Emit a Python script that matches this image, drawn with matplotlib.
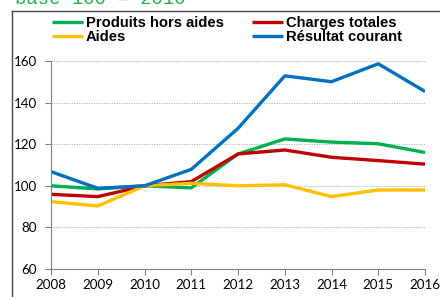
import matplotlib
matplotlib.use('Agg')
import matplotlib.pyplot as plt
from matplotlib.lines import Line2D

# Data (base 100 = 2010)
years = [2008, 2009, 2010, 2011, 2012, 2013, 2014, 2015, 2016]
produits = [100, 98.5, 100, 99, 115.3, 122.5, 121, 120.2, 116]
charges = [95.9, 94.8, 100, 102, 115.3, 117.2, 113.7, 112.1, 110.4]
aides = [92.4, 90.3, 100, 101.2, 100, 100.5, 94.8, 98, 98]
resultat = [106.8, 98.8, 100, 107.9, 127.6, 152.8, 150, 158.6, 145.3]

fig = plt.figure(figsize=(4.4, 2.97), dpi=100)
ax = fig.add_axes([0.116, 0.094, 0.85, 0.701])

# outer frame (only left and top edges are visible)
fx = 11.5 / 440
fy = 1 - 10.5 / 297
fig.add_artist(Line2D([fx, fx], [-0.1, fy], transform=fig.transFigure,
                      color='#444444', lw=1.0))
fig.add_artist(Line2D([fx, 1.1], [fy, fy], transform=fig.transFigure,
                      color='#444444', lw=1.0))
fig.text(15 / 440, 1 - 3.5 / 297, 'base 100 – 2010', color='#22b04b',
         family='Liberation Mono', fontsize=13.6, va='baseline', ha='left')

lw = 2.4
l1, = ax.plot(years, produits, color='#00b050', lw=lw, solid_capstyle='butt')
l2, = ax.plot(years, charges, color='#c00000', lw=lw, solid_capstyle='butt')
l3, = ax.plot(years, aides, color='#ffc000', lw=lw, solid_capstyle='butt')
l4, = ax.plot(years, resultat, color='#0070c0', lw=lw, solid_capstyle='butt')

ax.set_xlim(2008, 2016)
ax.set_ylim(60, 160)
ax.set_xticks(years)
ax.set_yticks([60, 80, 100, 120, 140, 160])
ax.grid(axis='y', color='#aaaaaa', linestyle=(0, (1.5, 1.5)), linewidth=0.6)
for s in ['top', 'right']:
    ax.spines[s].set_visible(False)
for s in ['left', 'bottom']:
    ax.spines[s].set_color('#808080')
    ax.spines[s].set_linewidth(0.8)
ax.tick_params(colors='#808080', length=4, width=0.8, labelcolor='black',
               labelsize=9.6)
ax.tick_params(axis='y', pad=6)
ax.tick_params(axis='x', pad=3)
for lab in ax.get_xticklabels() + ax.get_yticklabels():
    lab.set_family('Lato')

fig.legend([l1, l3, l2, l4],
           ['Produits hors aides', 'Aides', 'Charges totales', 'Résultat courant'],
           ncol=2, frameon=False, loc='upper left',
           bbox_to_anchor=(52 / 440, 1 - 16 / 297),
           prop={'family': 'Liberation Sans', 'weight': 'bold', 'size': 10.6},
           handlelength=2.1, handletextpad=0.2, columnspacing=1.9,
           labelspacing=0.0, borderaxespad=0, borderpad=0)

fig.savefig('out.png', dpi=100)
